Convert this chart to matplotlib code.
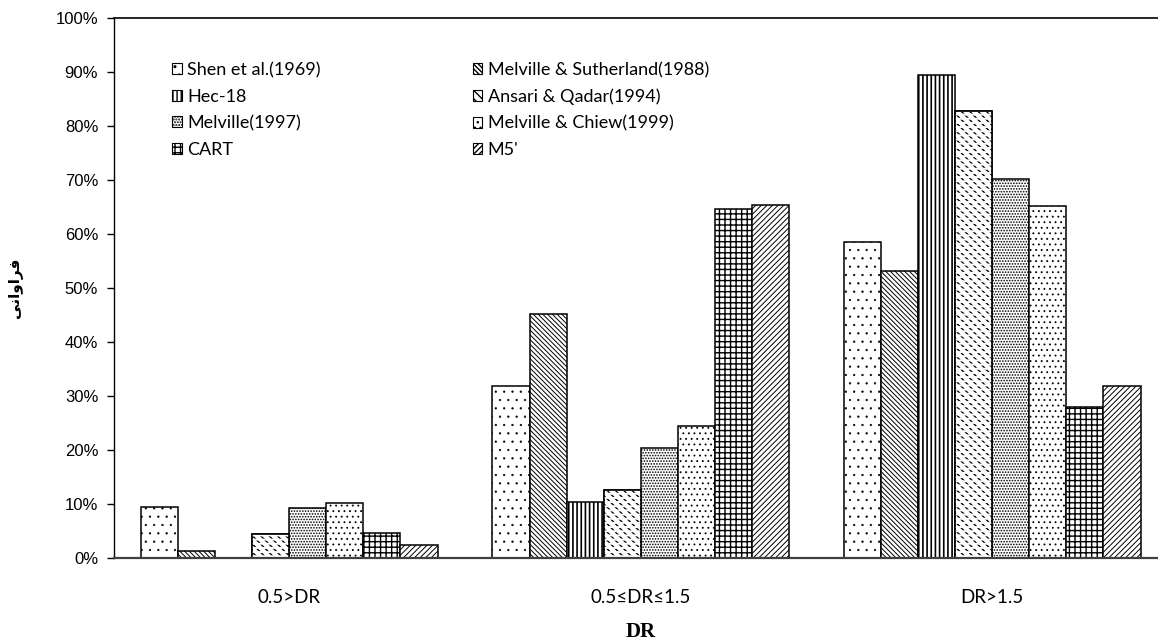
import numpy as np
import matplotlib
matplotlib.use('Agg')
import matplotlib.pyplot as plt
from matplotlib.ticker import PercentFormatter

# ─── data (fraction of samples per DR class) ─────────────────────────────────
categories = ['0.5>DR', '0.5≤DR≤1.5', 'DR>1.5']
methods = ['Shen et al.(1969)', 'Melville & Sutherland(1988)', 'Hec-18',
           'Ansari & Qadar(1994)', 'Melville(1997)', 'Melville & Chiew(1999)',
           'CART', "M5'"]
shen = [0.094, 0.319, 0.585]
melville_sutherland = [0.013, 0.451, 0.532]
hec18 = [0.0, 0.104, 0.894]
ansari_qadar = [0.044, 0.126, 0.828]
melville97 = [0.092, 0.204, 0.702]
melville_chiew = [0.101, 0.244, 0.651]
cart = [0.047, 0.646, 0.280]
m5 = [0.025, 0.654, 0.318]

series = [shen, melville_sutherland, hec18, ansari_qadar,
          melville97, melville_chiew, cart, m5]
# (hatch, hatch line width) per method
hatches = [('..', 0.4), ('\\' * 7, 0.7), ('|' * 4, 1.2), ('\\' * 4, 1.0),
           ('.' * 6, 0.8), ('...', 0.6), ('+++', 1.0), ('/' * 6, 0.7)]

# Persian axis title "فراوانی", written in contextual forms (no shaping engine)
ylabel_fa = '\ufbfd\ufee7\ufe8d\ufeed\ufe8d\ufeae\ufed3'

fig = plt.figure(figsize=(11.58, 6.41), dpi=100)
# the plot area runs past the right edge of the picture, as in the original
ax = fig.add_axes([113.5 / 1158, 1 - 558 / 641, 1054.5 / 1158, 540 / 641])

x = np.arange(len(categories))
group_w = 0.844
w = group_w / len(series)

handles = []
for k, (vals, (h, hlw)) in enumerate(zip(series, hatches)):
    pos = x - group_w / 2 + w * (k + 0.5)
    with plt.rc_context({'hatch.linewidth': hlw}):
        bars = ax.bar(pos, vals, width=w, color='white', edgecolor='black',
                      hatch=h, linewidth=1.1, zorder=2)
    if k == 3:
        # cut the diagonals into short dashes (Ansari & Qadar pattern)
        with plt.rc_context({'hatch.linewidth': 1.4}):
            ax.bar(pos, vals, width=w, color='none', edgecolor='white',
                   hatch='----', linewidth=0, zorder=3)
        ax.bar(pos, vals, width=w, color='none', edgecolor='black',
               linewidth=1.1, zorder=4)
    handles.append(bars)

ax.set_xlim(-0.5, len(categories) - 0.5)
ax.set_ylim(0, 1)
ax.set_yticks(np.arange(0, 1.01, 0.1))
ax.yaxis.set_major_formatter(PercentFormatter(1.0, decimals=0))
ax.set_xticks(x)
ax.set_xticklabels(categories, family='Lato', fontsize=13.5)
ax.tick_params(axis='x', length=0, pad=22)
ax.tick_params(axis='y', direction='out', length=5, width=1, pad=6,
               labelsize=12)
for lab in ax.get_yticklabels():
    lab.set_family('Liberation Sans')

ax.spines['right'].set_visible(False)
ax.spines['top'].set_linewidth(1.2)
ax.spines['left'].set_linewidth(1.0)
ax.spines['bottom'].set_color('#404040')
ax.spines['bottom'].set_linewidth(1.6)
ax.spines['bottom'].set_zorder(5)

ax.set_xlabel('DR', family='Liberation Serif', fontweight='bold', fontsize=15)
ax.xaxis.set_label_coords(0.5, -0.118)
ax.set_ylabel(ylabel_fa, family='DejaVu Sans', fontweight='bold', fontsize=11)
ax.yaxis.set_label_coords(-0.087, 0.5)

# legend is column-major in matplotlib, so reorder to read row by row
order = [0, 2, 4, 6, 1, 3, 5, 7]
leg = ax.legend([handles[i] for i in order], [methods[i] for i in order],
                ncol=2, loc='upper left',
                bbox_to_anchor=(172 / 1158, 1 - 62 / 641),
                bbox_transform=fig.transFigure, frameon=False,
                prop={'family': 'Lato', 'size': 13},
                handlelength=0.55, handleheight=0.55, handletextpad=0.3,
                labelspacing=0.58, columnspacing=8.4,
                borderpad=0, borderaxespad=0)
for p in leg.get_patches():
    p.set_linewidth(0.8)

fig.savefig('out.png', dpi=100)
